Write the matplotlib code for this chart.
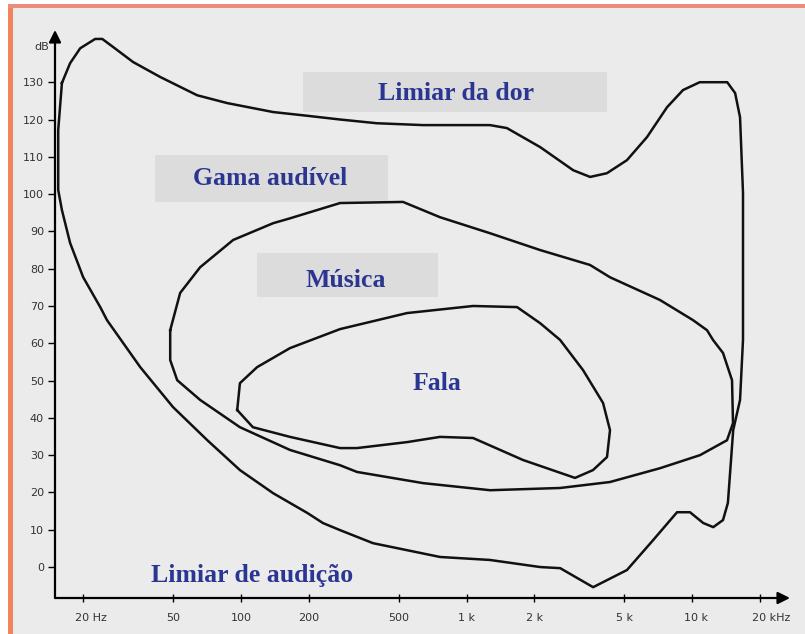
import numpy as np
import matplotlib
matplotlib.use("Agg")
import matplotlib.pyplot as plt
import matplotlib.transforms as mtransforms
from matplotlib.patches import Rectangle

# outer contour: threshold of pain on top, threshold of hearing below (Hz, dB)
gama_freq = [16.1, 17.5, 19.4, 22.6, 24.3, 27.2, 33.3, 43.9, 64, 87, 139, 197, 275,
             400, 642, 1270, 1510, 2120, 2970, 3530, 4190, 5140, 6310, 7740, 9110,
             10800, 14300, 15500, 16300, 16800, 16800, 16300, 15200, 14400, 13700,
             12400, 11200, 9780, 8570, 6710, 5140, 3640, 2600, 2120, 1270, 763, 385,
             275, 231, 197, 139, 99, 71, 50, 35.8, 25.5, 23.8, 20, 17.5, 16.1, 15.5,
             15.5]
gama_db = [129.8, 135.1, 139.1, 141.6, 141.6, 139.4, 135.4, 131.4, 126.5, 124.4, 122.0,
           121.0, 120.0, 119.0, 118.5, 118.5, 117.7, 112.6, 106.4, 104.6, 105.6, 109.1,
           115.3, 123.3, 127.9, 130.0, 130.0, 127.1, 120.6, 100.3, 60.9, 44.8, 36.7,
           17.2, 12.6, 10.7, 11.8, 14.7, 14.7, 7.2, -0.8, -5.4, -0.3, 0.0, 1.9, 2.7,
           6.4, 9.9, 11.8, 14.5, 19.8, 26.0, 34.0, 42.9, 53.6, 66.2, 69.7, 77.7, 86.9,
           95.7, 101.1, 117.2]

# music area
musica_freq = [48.6, 53.8, 66, 92.4, 139, 165, 275, 523, 763, 1272, 2118, 3526, 4324,
               7202, 10090, 11640, 12370, 13700, 15020, 15170, 14270, 10830, 7202,
               4324, 2598, 1272, 642, 327, 275, 165, 99, 66, 52.2, 48.6]
musica_db = [63.5, 73.5, 80.4, 87.7, 92.2, 93.5, 97.6, 97.9, 93.8, 89.5, 85.0, 81.0,
             77.7, 71.6, 66.2, 63.5, 60.9, 57.4, 50.1, 38.6, 34.0, 30.0, 26.5, 22.8,
             21.2, 20.6, 22.5, 25.5, 27.3, 31.4, 37.5, 44.8, 50.1, 55.5]

# speech area
fala_freq = [96.3, 99, 118, 165, 275, 545, 1069, 1675, 2118, 2598, 3284, 4027, 4324,
             4194, 3636, 3026, 1780, 1069, 763, 545, 327, 275, 165, 113]
fala_db = [42.1, 49.3, 53.6, 58.7, 63.8, 68.1, 70.0, 69.7, 65.4, 60.9, 52.8, 44.0,
           36.7, 29.5, 26.0, 23.9, 28.7, 34.6, 34.9, 33.5, 31.9, 31.9, 34.9, 37.5]

x_ticks = [20, 50, 100, 200, 500, 1000, 2000, 5000, 10000, 20000]
x_tick_labels = ["20 Hz", "50", "100", "200", "500", "1 k", "2 k", "5 k", "10 k", "20 kHz"]
y_ticks = list(range(0, 140, 10))

bg = "#ebebeb"
box_color = "#dcdcdc"
text_blue = "#2b3592"

fig = plt.figure(figsize=(8.05, 6.34), dpi=100)

# scanned page look: grey sheet with orange edge on left and top
fig.patches.append(Rectangle((12 / 805, 0), 1, 627 / 634, transform=fig.transFigure,
                             facecolor=bg, edgecolor="none", zorder=-10))
fig.patches.append(Rectangle((8 / 805, 0), 5 / 805, 630 / 634, transform=fig.transFigure,
                             facecolor="#f0845c", edgecolor="none", zorder=-9))
fig.patches.append(Rectangle((8 / 805, 626 / 634), 1, 4 / 634, transform=fig.transFigure,
                             facecolor="#ec8c7c", edgecolor="none", zorder=-9))

ax = fig.add_axes([55 / 805, 36 / 634, 735 / 805, 568 / 634])
ax.set_facecolor(bg)
ax.patch.set_alpha(0)
ax.set_xscale("log")
ax.set_xlim(15.0, 27140)
ax.set_ylim(-8.3, 144.0)

for side in ["top", "right", "left", "bottom"]:
    ax.spines[side].set_visible(False)

# axes with arrow heads
arrow = dict(arrowstyle="-|>", lw=1.6, color="black", mutation_scale=18, shrinkA=0, shrinkB=0)
ax.annotate("", xy=(0, 1), xytext=(0, 0), xycoords="axes fraction", arrowprops=arrow)
ax.annotate("", xy=(1, 0), xytext=(0, 0), xycoords="axes fraction", arrowprops=arrow)

# contours
for fx, dbs in [(gama_freq, gama_db), (musica_freq, musica_db), (fala_freq, fala_db)]:
    fx = list(fx) + [fx[0]]
    dbs = list(dbs) + [dbs[0]]
    ax.plot(fx, dbs, color="#111111", lw=1.8, solid_joinstyle="round", zorder=3)

# region labels
label_boxes = [
    ("Limiar da dor", 899, 127.1, (188.7, 4194, 122.0, 132.7)),
    ("Gama audível", 135, 104.3, (41.7, 449, 97.9, 110.5)),
    ("Música", 293, 76.9, (118, 748, 72.4, 84.2)),
    ("Fala", 740, 49.3, None),
    ("Limiar de audição", 112, -2.4, None),
]
for txt, tx, ty, box in label_boxes:
    if box is not None:
        x0, x1, y0, y1 = box
        ax.add_patch(Rectangle((x0, y0), x1 - x0, y1 - y0, facecolor=box_color,
                               edgecolor="none", zorder=1))
    ax.text(tx, ty, txt, ha="center", va="center", fontsize=18.5, fontweight="bold",
            family="Liberation Serif", color=text_blue, zorder=4)

ax.minorticks_off()
ax.set_xticks(x_ticks, x_tick_labels)
ax.set_yticks(y_ticks)
ax.tick_params(axis="x", direction="inout", length=6, width=1, pad=8,
               labelsize=8, labelcolor="#333333")
ax.tick_params(axis="y", direction="out", length=5, width=1, pad=3,
               labelsize=8, labelcolor="#333333")

# labels with a unit start at the tick, like the original
for lab in ax.get_xticklabels():
    if " " in lab.get_text():
        lab.set_horizontalalignment("left")
        lab.set_transform(lab.get_transform() +
                          mtransforms.ScaledTranslation(-6 / 72, 0, fig.dpi_scale_trans))

fig.text(42 / 805, 1 - 47 / 634, "dB", ha="center", va="center", fontsize=8, color="#333333")

plt.savefig("out.png", dpi=100)
